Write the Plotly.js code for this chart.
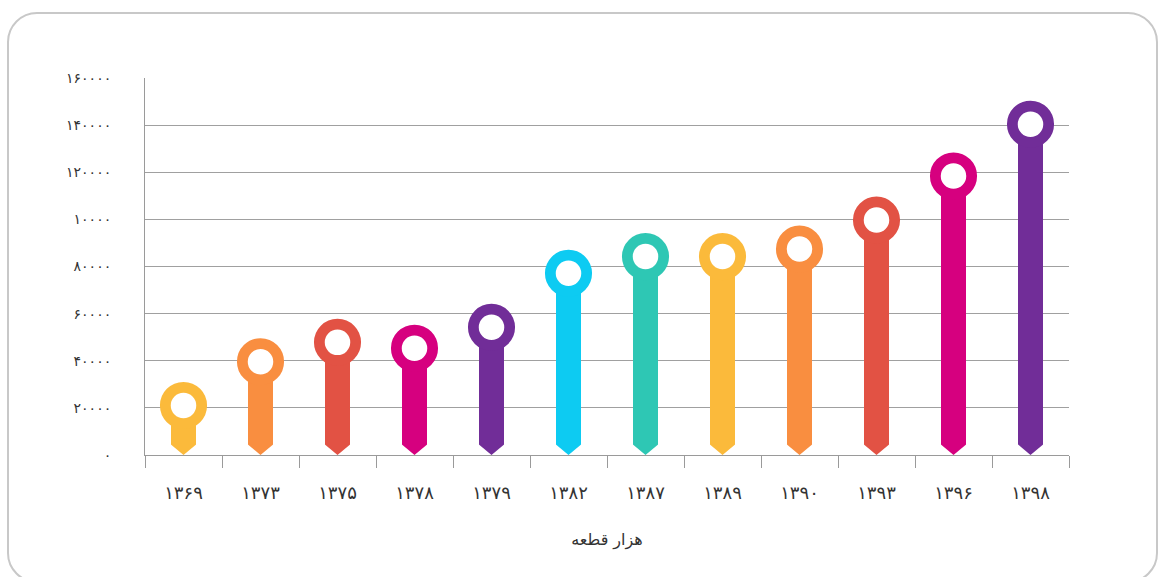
<!DOCTYPE html>
<html>
<head>
<meta charset="utf-8">
<script src="https://cdn.plot.ly/plotly-3.0.1.min.js"></script>
<style>
  html, body { margin: 0; padding: 0; background: #ffffff; overflow: hidden; }
  #wrap { position: relative; width: 1161px; height: 577px; }
  #frame { position: absolute; left: 7px; top: 12px; width: 1151px; height: 571px;
           box-sizing: border-box; border: 2.5px solid #c8c8c8; border-radius: 30px; pointer-events: none; }
  #chart { position: absolute; left: 0; top: 0; width: 1161px; height: 577px; }
</style>
</head>
<body>
<div id="wrap">
  <div id="chart"></div>
  <div id="frame"></div>
</div>
<script>
// ---- data ----
const years = ['۱۳۶۹', '۱۳۷۳', '۱۳۷۵', '۱۳۷۸', '۱۳۷۹', '۱۳۸۲', '۱۳۸۷', '۱۳۸۹', '۱۳۹۰', '۱۳۹۳', '۱۳۹۶', '۱۳۹۸'];
const values = [21000, 39600, 47800, 45300, 54200, 77100, 84200, 84200, 87400, 99700, 118400, 140400];
const colors = ['#FBBA3B', '#F98E40', '#E25244', '#D6007F', '#712D98', '#0DCBF2', '#2EC7B4',
                '#FBBA3B', '#F98E40', '#E25244', '#D6007F', '#712D98'];
const yTickVals = [0, 20000, 40000, 60000, 80000, 100000, 120000, 140000, 160000];
const yTickText = ['۰', '۲۰۰۰۰', '۴۰۰۰۰', '۶۰۰۰۰', '۸۰۰۰۰', '۱۰۰۰۰', '۱۲۰۰۰۰', '۱۴۰۰۰۰', '۱۶۰۰۰۰'];
const unitTitle = 'هزار قطعه';

// ---- chart ----
const xIdx = years.map((_, i) => i);
const fontFam = '"DejaVu Sans", "Noto Sans", sans-serif';

const stems = {
  type: 'bar', x: xIdx, y: values, width: 0.325,
  marker: { color: colors, line: { width: 0 } },
  hoverinfo: 'skip'
};
const rings = {
  type: 'scatter', mode: 'markers', x: xIdx, y: values,
  marker: { symbol: 'circle', size: 36.3, color: '#ffffff', line: { color: colors, width: 10.8 } },
  hoverinfo: 'skip', cliponaxis: false
};

// white cuts forming the pointed foot of every stem
const shapes = [];
xIdx.forEach(i => {
  shapes.push({ type: 'path', xref: 'x', yref: 'y', xsizemode: 'pixel', ysizemode: 'pixel',
    xanchor: i, yanchor: 0, path: 'M-15,0 L0,0 L-15,12.6 Z',
    fillcolor: '#ffffff', line: { width: 0 }, layer: 'above' });
  shapes.push({ type: 'path', xref: 'x', yref: 'y', xsizemode: 'pixel', ysizemode: 'pixel',
    xanchor: i, yanchor: 0, path: 'M15,0 L0,0 L15,12.6 Z',
    fillcolor: '#ffffff', line: { width: 0 }, layer: 'above' });
});

const layout = {
  width: 1161, height: 577,
  margin: { l: 145, r: 92, t: 78, b: 122, pad: 0 },
  paper_bgcolor: 'rgba(0,0,0,0)', plot_bgcolor: 'rgba(0,0,0,0)',
  showlegend: false, bargap: 0,
  font: { family: fontFam, color: '#333333' },
  xaxis: {
    type: 'linear', range: [-0.5, years.length - 0.5], fixedrange: true,
    tickmode: 'array', tickvals: xIdx, ticktext: years,
    ticks: '', showgrid: false, zeroline: false,
    showline: true, linecolor: '#9a9a9a', linewidth: 1,
    tickfont: { size: 18, color: '#333333', family: fontFam },
    ticklabelstandoff: 21,
    minor: { tickmode: 'linear', tick0: -0.5, dtick: 1, ticks: 'outside', ticklen: 12,
             tickcolor: '#9a9a9a', tickwidth: 1, showgrid: false },
    title: { text: unitTitle, font: { size: 16, color: '#333333', family: fontFam }, standoff: 32 }
  },
  yaxis: {
    range: [0, 160000], fixedrange: true,
    tickmode: 'array', tickvals: yTickVals, ticktext: yTickText,
    ticks: '', showgrid: true, gridcolor: '#a0a0a0', gridwidth: 1, zeroline: false,
    showline: true, linecolor: '#9a9a9a', linewidth: 1,
    tickfont: { size: 14, color: '#333333', family: fontFam },
    ticklabelstandoff: 30
  },
  shapes: shapes
};

Plotly.newPlot('chart', [stems, rings], layout, { staticPlot: true, displayModeBar: false });
</script>
</body>
</html>
